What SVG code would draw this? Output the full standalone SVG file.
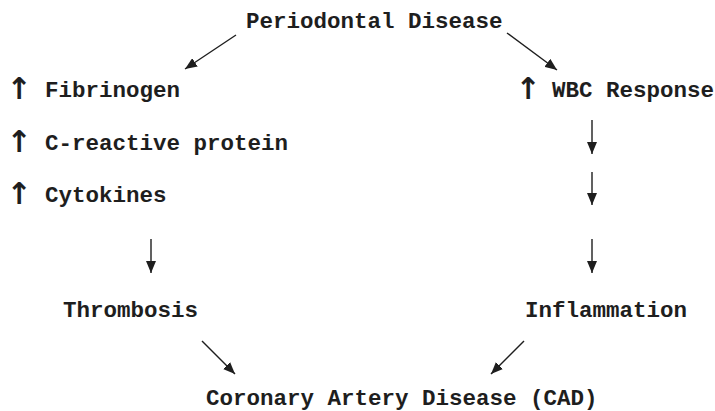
<svg xmlns="http://www.w3.org/2000/svg" width="715" height="411" viewBox="0 0 715 411">
  <style>
    .lbl { font-family: "Liberation Mono", "Courier New", monospace; font-weight: bold; font-size: 22.5px; fill: #1e1e1e; }
    .up { font-family: "DejaVu Sans", sans-serif; font-weight: bold; font-size: 30px; fill: #1e1e1e; text-anchor: middle; }
    .edge { stroke: #1e1e1e; stroke-width: 1.4; fill: none; marker-end: url(#head); }
  </style>
  <defs>
    <marker id="head" viewBox="0 0 12 10" refX="12" refY="5" markerWidth="12" markerHeight="10" markerUnits="userSpaceOnUse" orient="auto">
      <path d="M0,0 L12,5 L0,10 z" fill="#1e1e1e"/>
    </marker>
  </defs>
  <rect width="715" height="411" fill="#fff"/>

  <g id="periodontal-disease"><text class="lbl" x="246" y="28">Periodontal Disease</text></g>

  <g id="fibrinogen"><text class="up" x="19" y="99">↑</text><text class="lbl" x="45" y="97">Fibrinogen</text></g>
  <g id="c-reactive-protein"><text class="up" x="19" y="152">↑</text><text class="lbl" x="45" y="150">C-reactive protein</text></g>
  <g id="cytokines"><text class="up" x="19" y="204">↑</text><text class="lbl" x="45" y="202">Cytokines</text></g>

  <g id="wbc-response"><text class="up" x="528" y="99">↑</text><text class="lbl" x="552" y="97">WBC Response</text></g>

  <g id="thrombosis"><text class="lbl" x="63" y="317">Thrombosis</text></g>
  <g id="inflammation"><text class="lbl" x="525" y="317">Inflammation</text></g>

  <g id="cad"><text class="lbl" x="206" y="405">Coronary Artery Disease (CAD)</text></g>

  <g id="connectors">
    <line class="edge" x1="236" y1="35" x2="185" y2="69"/>
    <line class="edge" x1="507" y1="33" x2="557" y2="70"/>
    <line class="edge" x1="151" y1="239" x2="151" y2="273"/>
    <line class="edge" x1="592" y1="120" x2="592" y2="154"/>
    <line class="edge" x1="592" y1="172" x2="592" y2="205"/>
    <line class="edge" x1="592" y1="239" x2="592" y2="273"/>
    <line class="edge" x1="202" y1="341" x2="235" y2="374"/>
    <line class="edge" x1="524" y1="341" x2="491" y2="374"/>
  </g>
</svg>
